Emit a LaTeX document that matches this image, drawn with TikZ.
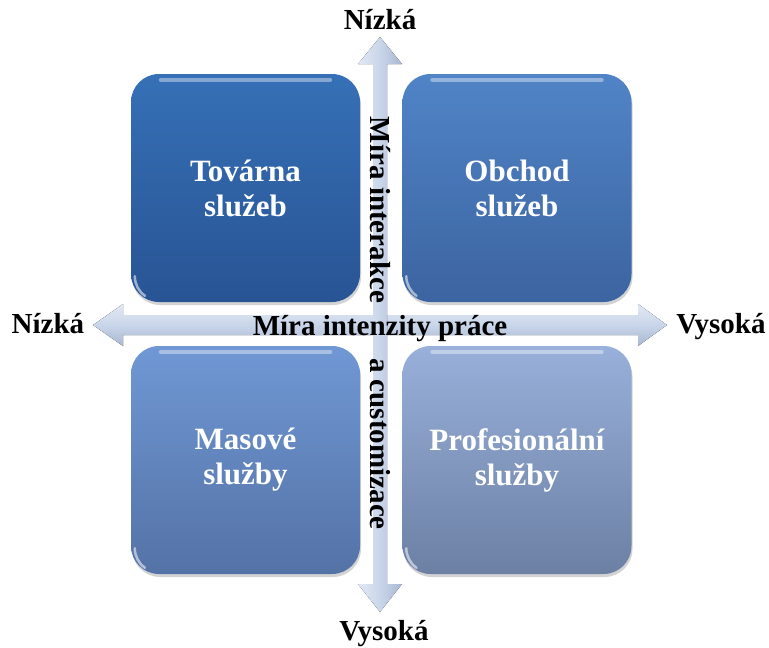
\documentclass[tikz,border=0pt]{standalone}
\usepackage{fontspec}
\setmainfont{Liberation Serif}
\usetikzlibrary{shadows}

\definecolor{tlTop}{RGB}{54,112,182}
\definecolor{tlBot}{RGB}{40,84,148}
\definecolor{trTop}{RGB}{80,132,199}
\definecolor{trBot}{RGB}{60,100,160}
\definecolor{blTop}{RGB}{112,152,212}
\definecolor{blBot}{RGB}{84,114,166}
\definecolor{brTop}{RGB}{152,176,218}
\definecolor{brBot}{RGB}{108,128,164}
\definecolor{arrowLight}{RGB}{226,233,244}
\definecolor{arrowMid}{RGB}{201,213,233}
\definecolor{arrowDark}{RGB}{168,184,210}

\begin{document}
\begin{tikzpicture}[x=1pt,y=-1pt,
  quad/.style={rounded corners=28pt,minimum width=229pt,minimum height=228pt,draw=none,text=white,
    font=\fontsize{31}{35}\selectfont\bfseries,align=center,
    drop shadow={opacity=0.35,shadow xshift=1pt,shadow yshift=-3pt}},
  axislabel/.style={font=\fontsize{29}{32}\selectfont\bfseries,text=black,inner sep=0pt}]
\useasboundingbox (0,0) rectangle (769,648);

\node[quad,top color=tlTop,bottom color=tlBot] (tovarna) at (245.5,188) {Továrna\\služeb};
\node[quad,top color=trTop,bottom color=trBot] (obchod) at (517,188) {Obchod\\služeb};
\node[quad,top color=blTop,bottom color=blBot] (masove) at (245.5,460) {Masové\\služby};
\node[quad,top color=brTop,bottom color=brBot] (profes) at (517,460) {Profesionální\\služby};
\foreach \q in {tovarna,obchod,masove,profes}{
  \draw[white,opacity=0.4,line width=4pt,line cap=round] ([xshift=30pt,yshift=-6pt]\q.north west) -- ([xshift=-30pt,yshift=-6pt]\q.north east);
  \draw[white,opacity=0.55,line width=2.5pt,line cap=round] ([xshift=4pt,yshift=26pt]\q.south west) arc[start angle=180,end angle=235,radius=24pt];
}

% axes
\fill[top color=arrowLight,bottom color=arrowDark,middle color=arrowMid]
  (93,325) -- (123,304) -- (123,315) -- (638,315) -- (638,304) -- (667,325)
  -- (638,346) -- (638,335) -- (123,335) -- (123,346) -- cycle;
\fill[left color=arrowLight,right color=arrowDark,middle color=arrowMid]
  (380,37) -- (402,64) -- (387,64) -- (387,584) -- (402,584) -- (380,612)
  -- (358,584) -- (373,584) -- (373,64) -- (358,64) -- cycle;

\node[axislabel,rotate=-90] (interakce) at (380,210) {Míra interakce};
\node[axislabel,rotate=-90] (customizace) at (380,444) {a customizace};
\node[axislabel,anchor=base] (intenzita) at (380,335) {Míra intenzity práce};

\node[axislabel,anchor=base] (nizkaX) at (48,333) {Nízká};
\node[axislabel,anchor=base] (vysokaX) at (721,333) {Vysoká};
\node[axislabel,anchor=base] (nizkaY) at (380,29) {Nízká};
\node[axislabel,anchor=base] (vysokaY) at (384,640) {Vysoká};

\end{tikzpicture}
\end{document}
